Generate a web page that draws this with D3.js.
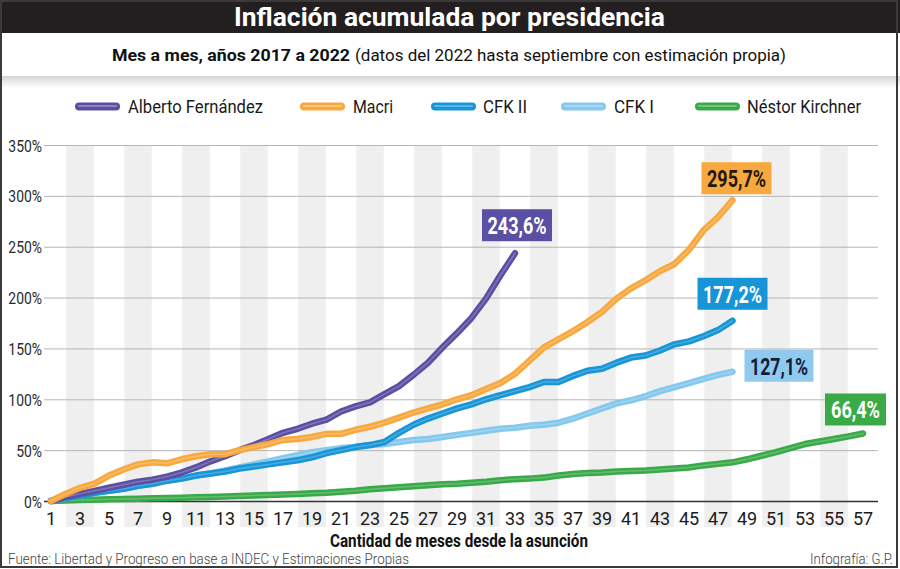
<!DOCTYPE html>
<html><head><meta charset="utf-8">
<script src="https://cdn.jsdelivr.net/npm/d3@7"></script>
<style>
body{margin:0;background:#fff}
svg{display:block}
text{font-family:Roboto,"Liberation Sans",Arial,sans-serif}
</style>
</head><body>
<svg id="c" width="900" height="569"></svg>
<script>
// ---------- data ----------
const seriesNames = ["Alberto Fernández", "Macri", "CFK II", "CFK I", "Néstor Kirchner"];
const seriesColors = ["#5b4fa3", "#f7a93f", "#1795d7", "#84c8ee", "#3aaa48"];
const albertoFernandez = [0,4,7,10,13,16,19,21,24,28,33,39,44,50,55,61,67,71,76,80,88,93,97,105,113,124,136,151,165,180,199,222,243.6];
const macri = [0,7,13,17,25,31,36,38,37,41,44,46,46,50,53,56,60,61,63,66,66,70,73,77,82,87,91,95,100,104,110,116,125,138,151,159,167,176,186,199,209,217,226,233,247,266,279,295.7];
const cfk2 = [0,3,5,8,10,12,15,17,20,22,25,27,29,32,34,36,38,40,43,47,50,53,55,58,67,75,81,86,91,95,100,104,108,112,117,117,123,128,130,136,141,143,148,154,157,162,168,177.2];
const cfk1 = [0,3,5,8,10,12,15,17,20,22,25,27,30,33,36,39,42,45,48,50,52,53,55,56,58,60,61,63,65,67,69,71,72,74,75,77,81,86,91,96,99,103,108,112,116,120,124,127.1];
const nestorKirchner = [0,0.5,1,1.3,1.6,2,2.3,2.6,3,3.3,3.6,4,4.5,5,5.5,6,6.5,7,7.5,8,9,10,11.5,12.5,13.5,14.5,15.5,16.5,17,18,19,20.5,21.5,22,23,25,26.5,27.5,28,29,29.5,30,31,32,33,35,36.5,38,41,44.5,48,52,56,58.5,61,63.5,66.4];
const finalLabels = ["243,6%", "295,7%", "177,2%", "127,1%", "66,4%"];
const yTicks = [0, 50, 100, 150, 200, 250, 300, 350];
const xTicks = d3.range(1, 58, 2);
const shadedMonths = d3.range(3, 57, 4);

const seriesValues = [albertoFernandez, macri, cfk2, cfk1, nestorKirchner];

// ---------- layout ----------
const svg = d3.select("#c");
const x = d3.scaleLinear().domain([1, 57]).range([51, 863]);
const y = d3.scaleLinear().domain([0, 350]).range([501, 145]);
const gridX0 = 44, gridX1 = 878;

// title bar
svg.append("rect").attr("x",0).attr("y",0).attr("width",900).attr("height",33).attr("fill","#231f20");
svg.append("text").attr("x",234).attr("y",26).attr("fill","#fff")
  .attr("font-size",25).attr("font-weight",700)
  .attr("textLength",431).attr("lengthAdjust","spacingAndGlyphs")
  .text("Inflación acumulada por presidencia");

// subtitle
svg.append("text").attr("x",112).attr("y",61).attr("fill","#111")
  .attr("font-size",16.5).attr("font-weight",700)
  .attr("textLength",238).attr("lengthAdjust","spacingAndGlyphs")
  .text("Mes a mes, años 2017 a 2022");
svg.append("text").attr("x",355).attr("y",61).attr("fill","#111")
  .attr("font-size",16.5).attr("font-weight",400)
  .attr("textLength",431).attr("lengthAdjust","spacingAndGlyphs")
  .text("(datos del 2022 hasta septiembre con estimación propia)");

// divider shadow
const defs = svg.append("defs");
const grad = defs.append("linearGradient").attr("id","sh").attr("x1",0).attr("y1",0).attr("x2",0).attr("y2",1);
grad.append("stop").attr("offset","0%").attr("stop-color","#d4d4d4");
grad.append("stop").attr("offset","100%").attr("stop-color","#ffffff");
svg.append("rect").attr("x",0).attr("y",76).attr("width",900).attr("height",12).attr("fill","url(#sh)");

// legend
const legendSwatchX = [75, 300, 431, 561, 695];
const legendTextX = [128, 353, 483, 614, 747];
const legendTextW = [135, 40, 44, 40, 114];
const lg = svg.append("g");
seriesNames.forEach((n, i) => {
  lg.append("line").attr("x1",legendSwatchX[i]+4).attr("x2",legendSwatchX[i]+41)
    .attr("y1",106.5).attr("y2",106.5).attr("stroke",seriesColors[i])
    .attr("stroke-width",8).attr("stroke-linecap","round");
  lg.append("line").attr("x1",legendSwatchX[i]+4).attr("x2",legendSwatchX[i]+41)
    .attr("y1",106).attr("y2",106).attr("stroke","#fff").attr("stroke-opacity",0.3)
    .attr("stroke-width",2).attr("stroke-linecap","round");
  lg.append("text").attr("x",legendTextX[i]).attr("y",113).attr("fill","#1a1a1a")
    .attr("font-size",18).attr("textLength",legendTextW[i]).attr("lengthAdjust","spacingAndGlyphs")
    .text(n);
});

// shaded bands
svg.append("g").selectAll("rect").data(shadedMonths).join("rect")
  .attr("x", d => x(d - 0.95)).attr("width", d => x(d + 0.95) - x(d - 0.95))
  .attr("y", y(350)).attr("height", 527 - y(350)).attr("fill","#efefef");

// grid lines
svg.append("g").selectAll("line").data(yTicks).join("line")
  .attr("x1",gridX0).attr("x2",gridX1).attr("y1",d=>y(d)+0.5).attr("y2",d=>y(d)+0.5)
  .attr("stroke", d => d === 0 ? "#333" : "#b5b5b5").attr("stroke-width", d => d === 0 ? 1.5 : 1);

// y tick labels
svg.append("g").selectAll("text").data(yTicks).join("text")
  .attr("transform", d => `translate(42,${y(d)+6.5}) scale(0.82,1)`)
  .attr("text-anchor","end").attr("font-size",17).attr("fill","#2a2a2a")
  .text(d => d + "%");

// x tick labels
svg.append("g").selectAll("text").data(xTicks).join("text")
  .attr("x", d => x(d)).attr("y", 525).attr("text-anchor","middle")
  .attr("font-size",18).attr("fill","#1a1a1a")
  .text(d => d);

// axis title
svg.append("text").attr("x",330).attr("y",547).attr("fill","#111")
  .attr("font-size",18).attr("font-weight",700)
  .attr("textLength",258).attr("lengthAdjust","spacingAndGlyphs")
  .text("Cantidad de meses desde la asunción");

// lines
const line = d3.line().x((d,i) => x(i + 1)).y(d => y(d));
const drawOrder = [4, 3, 2, 0, 1];
const lines = svg.append("g").attr("fill","none").attr("stroke-linecap","round").attr("stroke-linejoin","round");
drawOrder.forEach(i => {
  lines.append("path").attr("d", line(seriesValues[i])).attr("stroke", seriesColors[i]).attr("stroke-width",6.5);
  lines.append("path").attr("d", line(seriesValues[i])).attr("stroke", "#fff").attr("stroke-opacity",0.22).attr("stroke-width",1.5);
});

// end labels
const labelFill = ["#5b4fa3", "#f7a93f", "#1795d7", "#8fcaee", "#3aaa48"];
const labelText = ["#ffffff", "#24180c", "#ffffff", "#131c38", "#ffffff"];
const labelDx = [-33, -31, -35, 12, -38];   // box left relative to end point
const labelDy = [-44, -38, -43, -22, -40];  // box top relative to end point
const labelW = [70, 70, 70, 69, 61];
const labelTW = [59, 59, 59, 58, 49];
const lbl = svg.append("g");
seriesValues.forEach((vals, i) => {
  const n = vals.length;
  const ex = x(n), ey = y(vals[n - 1]);
  const bx = ex + labelDx[i], by = ey + labelDy[i];
  lbl.append("rect").attr("x",bx).attr("y",by).attr("width",labelW[i]).attr("height",32).attr("fill",labelFill[i]);
  lbl.append("text").attr("x", bx + (labelW[i]-labelTW[i])/2).attr("y", by + 25)
    .attr("font-size",23).attr("font-weight",700).attr("fill",labelText[i])
    .attr("textLength",labelTW[i]).attr("lengthAdjust","spacingAndGlyphs")
    .text(finalLabels[i]);
});

// footer
svg.append("text").attr("x",8).attr("y",564).attr("fill","#444").attr("font-size",14).attr("font-weight",300)
  .attr("textLength",401).attr("lengthAdjust","spacingAndGlyphs")
  .text("Fuente: Libertad y Progreso en base a INDEC y Estimaciones Propias");
svg.append("text").attr("x",810).attr("y",564).attr("fill","#444").attr("font-size",14).attr("font-weight",300)
  .attr("textLength",83).attr("lengthAdjust","spacingAndGlyphs")
  .text("Infografía: G.P.");

// border
svg.append("rect").attr("x",1).attr("y",1).attr("width",896).attr("height",566)
  .attr("fill","none").attr("stroke","#3a3a3a").attr("stroke-width",2);
</script>
</body></html>
